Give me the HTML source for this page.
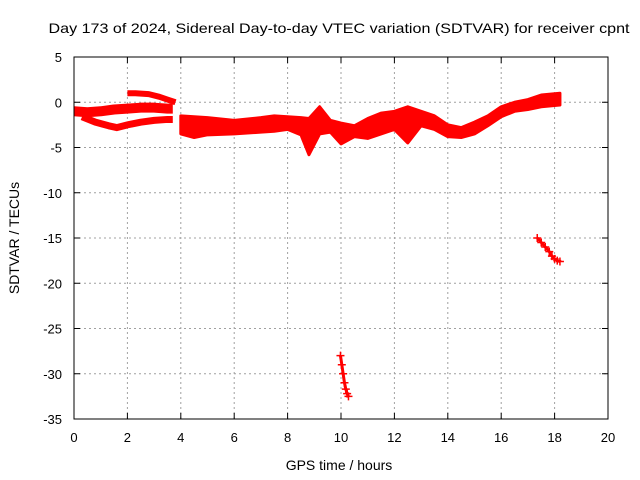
<!DOCTYPE html>
<html><head><meta charset="utf-8"><style>body{margin:0;background:#fff}svg{display:block;font-family:"Liberation Sans",sans-serif}</style></head>
<body>
<svg id="c" width="640" height="480">
<rect width="640" height="480" fill="#fff"/>
<text x="339" y="33" font-size="14" text-anchor="middle" textLength="581" lengthAdjust="spacingAndGlyphs">Day 173 of 2024, Sidereal Day-to-day VTEC variation (SDTVAR) for receiver cpnt</text>
<g id="grid"></g>
<g id="data"></g>
<rect x="74" y="57" width="534" height="362" fill="none" stroke="#000" stroke-width="1"/>
<g id="ticks"></g>
<text x="339" y="470" font-size="14" text-anchor="middle">GPS time / hours</text>
<text transform="translate(19,238) rotate(-90)" font-size="14" text-anchor="middle">SDTVAR / TECUs</text>
</svg>
<script>
const xTicks=[0,2,4,6,8,10,12,14,16,18,20];
const yTicks=[5,0,-5,-10,-15,-20,-25,-30,-35];
const earlyUpperT=[0,0.5,1,1.5,2,2.5,3,3.5,3.7];
const earlyUpperV=[-1.0,-1.1,-1.0,-0.8,-0.7,-0.6,-0.6,-0.7,-0.7];
const earlyLowerT=[0.3,0.8,1.3,1.6,2.0,2.5,3.0,3.5,3.7];
const earlyLowerV=[-1.6,-2.2,-2.6,-2.8,-2.5,-2.2,-2.0,-1.9,-1.9];
const topT=[2.0,2.3,2.8,3.2,3.5,3.8];
const topV=[1.0,1.0,0.9,0.6,0.3,0.0];
const mainT=[4,4.5,5,6,7,7.5,8,8.5,8.8,9.2,9.6,10,10.5,11,11.5,12,12.5,13,13.5,14,14.5,15,15.5,16,16.5,17,17.5,18.2];
const mainUpper=[-1.5,-1.6,-1.7,-2.0,-1.7,-1.5,-1.6,-1.7,-1.8,-0.5,-2.0,-2.3,-2.6,-1.8,-1.2,-1.0,-0.5,-1.0,-1.5,-2.5,-2.8,-2.2,-1.5,-0.5,0.0,0.3,0.8,1.0];
const mainLower=[-3.5,-3.9,-3.6,-3.5,-3.3,-3.2,-3.0,-3.6,-5.8,-3.5,-3.3,-4.6,-3.8,-4.0,-3.5,-3.0,-4.5,-2.6,-3.0,-3.8,-3.9,-3.5,-2.6,-1.6,-1.0,-0.8,-0.5,-0.3];
const dropT=[9.98,10.03,10.08,10.13,10.18,10.23,10.28];
const dropV=[-28.0,-29.0,-30.0,-31.0,-31.7,-32.2,-32.5];
const tailT=[17.35,17.5,17.65,17.8,17.9,18.0,18.1,18.2];
const tailV=[-15.0,-15.5,-16.0,-16.5,-17.0,-17.3,-17.5,-17.6];
const X=t=>74+t*26.7, Y=v=>57+(5-v)*9.05;
const NS="http://www.w3.org/2000/svg";
function mk(tag,attrs,parent){const e=document.createElementNS(NS,tag);for(const k in attrs)e.setAttribute(k,attrs[k]);parent.appendChild(e);return e;}
const grid=document.getElementById('grid'),ticks=document.getElementById('ticks'),data=document.getElementById('data');
xTicks.forEach(t=>{
 if(t>0&&t<20){const l=mk('line',{x1:X(t),x2:X(t),y1:57,y2:419,stroke:'#a0a0a0','stroke-dasharray':'2,3'},grid);
 
 }
 const tx=mk('text',{x:X(t),y:442,'font-size':13,'text-anchor':'middle'},ticks);tx.textContent=t;
 
 
 mk('line',{x1:X(t),x2:X(t),y1:419,y2:413,stroke:'#000'},ticks);mk('line',{x1:X(t),x2:X(t),y1:57,y2:63,stroke:'#000'},ticks);
});
yTicks.forEach(v=>{
 if(v<5&&v>-35){const l=mk('line',{x1:74,x2:608,y1:Y(v),y2:Y(v),stroke:'#a0a0a0','stroke-dasharray':'2,3'},grid);
 
 }
 const tx=mk('text',{x:62,y:Y(v)+5,'font-size':13,'text-anchor':'end'},ticks);tx.textContent=v;
 
 
 mk('line',{x1:74,x2:80,y1:Y(v),y2:Y(v),stroke:'#000'},ticks);mk('line',{x1:608,x2:602,y1:Y(v),y2:Y(v),stroke:'#000'},ticks);
});
function band(T,U,L,name){
 let d='M'+T.map((t,i)=>X(t)+','+Y(U[i])).join(' L');
 d+=' L'+T.map((t,i)=>X(t)+','+Y(L[i])).reverse().join(' L')+'Z';
 const p=mk('path',{d:d,fill:'#f00',stroke:'#f00','stroke-width':3,'stroke-linejoin':'round'},data);
 
 
}
function line(T,V,name,w){
 const p=mk('polyline',{points:T.map((t,i)=>X(t)+','+Y(V[i])).join(' '),fill:'none',stroke:'#f00','stroke-width':w,'stroke-linejoin':'round'},data);
 
 
}
function marks(T,V,name){
 T.forEach((t,i)=>{const x=X(t),y=Y(V[i]);
  const p=mk('path',{d:`M${x-4},${y}H${x+4}M${x},${y-4}V${y+4}`,stroke:'#f00','stroke-width':1.5},data);
  
  });
}
line(earlyUpperT,earlyUpperV,'early-upper-track',10);
line(earlyLowerT,earlyLowerV,'early-lower-track',7);
line(topT,topV,'early-top-track',6);
band(mainT,mainUpper,mainLower,'main-band');
line(dropT,dropV,'drop-track',3);marks(dropT,dropV,'drop-point');
line(tailT,tailV,'tail-track',3);marks(tailT,tailV,'tail-point');
</script>
</body></html>
